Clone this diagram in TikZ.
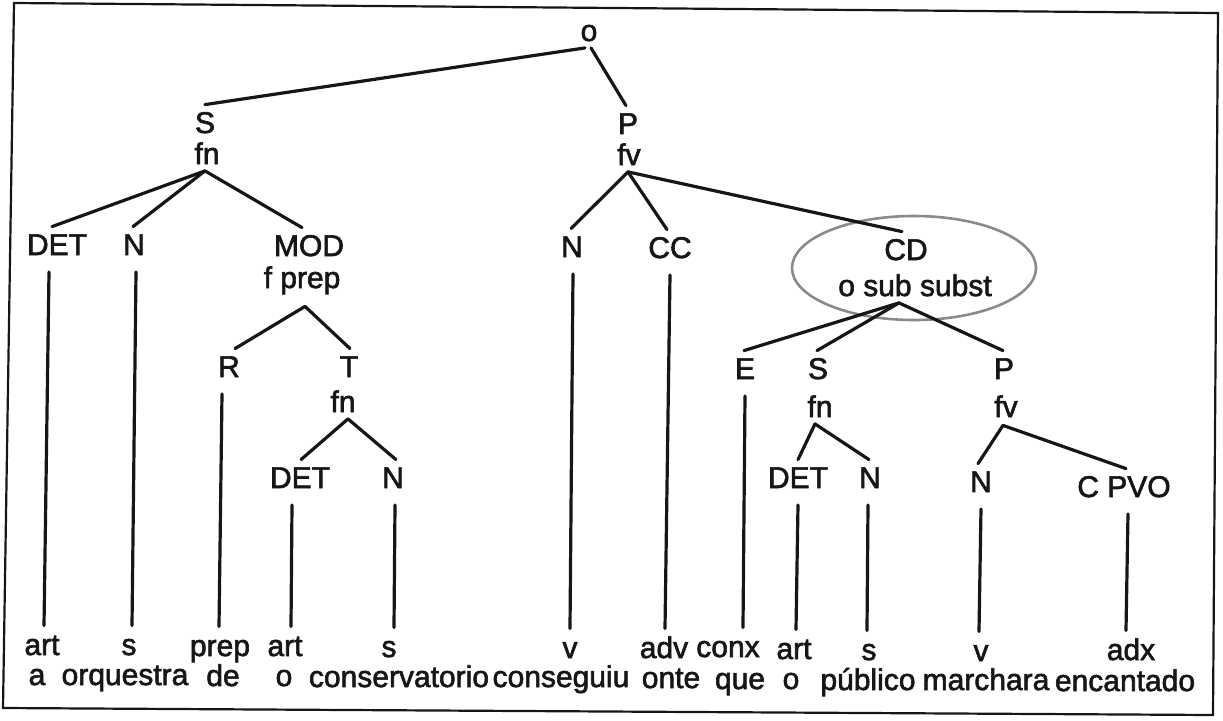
\documentclass[tikz,border=0pt]{standalone}
\usepackage{fontspec}
\setmainfont{Liberation Sans}
\newfontfamily\treefont{Liberation Sans}[FakeBold=2]
\usetikzlibrary{shapes.geometric}

\definecolor{ink}{HTML}{161616}
\definecolor{ringgray}{HTML}{8A8A8A}

% \branch{parent}{child}{parent dx}{parent dy}{child dx}   (offsets in px)
\newcommand\branch[5]{%
  \draw[branchline] ([xshift=#3*0.5pt,yshift=-(#4+3.5)*0.5pt]#1.south) --
                    ([xshift=#5*0.5pt,yshift=7pt]#2.north);}
% \stem{category}{word class}{top dx}{bottom dx}   (offsets in px)
\newcommand\stem[4]{%
  \draw[branchline] ([xshift=#3*0.5pt,yshift=-6.75pt]#1.south) --
                    ([xshift=#4*0.5pt,yshift=7.5pt]#2.north);}

\begin{document}
\begin{tikzpicture}[x=0.5pt,y=-0.5pt,
  lbl/.style={anchor=base,inner sep=0pt,text height=0.7em,text depth=0.15em,
              font=\treefont\fontsize{15}{18}\selectfont,text=ink},
  branchline/.style={line width=1.6pt,draw=ink,line cap=round},
  frame/.style={line width=1.1pt,draw=ink},
  ring/.style={ellipse,draw=ringgray,line width=1.3pt,inner sep=0pt,
               minimum width=122pt,minimum height=52pt}]
\useasboundingbox (0,0) rectangle (1223,720);

% outer frame
\draw[frame] (14,3) -- (1218,13) -- (1213,715) -- (3,708) -- cycle;

% sentence
\node[lbl] (root) at (589,41) {o};

% subject
\node[lbl] (sS)  at (205,133) {S};
\node[lbl] (sSf) at (207,164) {fn};
\node[lbl] (det1) at (57,255) {DET};
\node[lbl] (n1)   at (134,255) {N};
\node[lbl] (mod)  at (309,256) {MOD};
\node[lbl] (modf) at (302,288) {f prep};
\node[lbl] (r)    at (229,377) {R};
\node[lbl] (t)    at (349,377) {T};
\node[lbl] (tf)   at (343,412) {fn};
\node[lbl] (det3) at (300,488) {DET};
\node[lbl] (n3)   at (393,488) {N};

% predicate
\node[lbl] (pP)  at (628,134) {P};
\node[lbl] (pPf) at (629,165) {fv};
\node[lbl] (n2)  at (572,257) {N};
\node[lbl] (cc)  at (670,258) {CC};
\node[lbl] (cd)  at (906,260) {CD};
\node[lbl] (cdf) at (915,296) {o sub subst};
\node[ring] (cdring) at (914,268) {};

% subordinate clause
\node[lbl] (e)    at (745,379) {E};
\node[lbl] (s2)   at (818,379) {S};
\node[lbl] (s2f)  at (820,417) {fn};
\node[lbl] (p2)   at (1004,379) {P};
\node[lbl] (p2f)  at (1006,417) {fv};
\node[lbl] (det4) at (798,488) {DET};
\node[lbl] (n4)   at (870,488) {N};
\node[lbl] (n5)   at (981,492) {N};
\node[lbl] (cpvo) at (1124,497) {C PVO};

% word classes
\node[lbl] (l1)  at (42,655)   {art};
\node[lbl] (l2)  at (129,655)  {s};
\node[lbl] (l3)  at (220,656)  {prep};
\node[lbl] (l4)  at (285,656)  {art};
\node[lbl] (l5)  at (389,657)  {s};
\node[lbl] (l6)  at (570,658)  {v};
\node[lbl] (l7)  at (664,658)  {adv};
\node[lbl] (l8)  at (728,657)  {conx};
\node[lbl] (l9)  at (794,659)  {art};
\node[lbl] (l10) at (869,660)  {s};
\node[lbl] (l11) at (981,661)  {v};
\node[lbl] (l12) at (1131,660) {adx};

% words
\node[lbl] (w1)  at (37,685)   {a};
\node[lbl] (w2)  at (125,685)  {orquestra};
\node[lbl] (w3)  at (223,686)  {de};
\node[lbl] (w4)  at (284,686)  {o};
\node[lbl] (w5)  at (399,687)  {conservatorio};
\node[lbl] (w6)  at (561,687)  {conseguiu};
\node[lbl] (w7)  at (671,688)  {onte};
\node[lbl] (w8)  at (740,689)  {que};
\node[lbl] (w9)  at (791,689)  {o};
\node[lbl] (w10) at (868,690)  {público};
\node[lbl] (w11) at (986,690)  {marchara};
\node[lbl] (w12) at (1125,691) {encantado};

% branches
\branch{root}{sS}{-4}{0}{0}
\branch{root}{pP}{2}{0}{-2}
\branch{sSf}{det1}{-2}{0}{-5}
\branch{sSf}{n1}{-2}{0}{-1}
\branch{sSf}{mod}{-2}{0}{-7}
\branch{modf}{r}{3}{11.5}{6}
\branch{modf}{t}{3}{11.5}{1}
\branch{tf}{det3}{5}{0}{1}
\branch{tf}{n3}{5}{0}{3}
\branch{pPf}{n2}{-1}{0}{-1}
\branch{pPf}{cc}{-1}{0}{-3}
\branch{pPf}{cd}{-1}{0}{-4}
\branch{cdf}{e}{-16}{0}{-1}
\branch{cdf}{s2}{-16}{0}{-1}
\branch{cdf}{p2}{-16}{0}{-1}
\branch{s2f}{det4}{-5}{0}{0}
\branch{s2f}{n4}{-5}{0}{-1}
\branch{p2f}{n5}{-3}{1.5}{-3}
\branch{p2f}{cpvo}{-3}{1.5}{2}

% stems down to the word classes
\stem{det1}{l1}{-8}{2}
\stem{n1}{l2}{2}{3}
\stem{r}{l3}{-7}{-1}
\stem{det3}{l4}{-8}{6}
\stem{n3}{l5}{2}{5}
\stem{n2}{l6}{1}{0}
\stem{cc}{l7}{0}{1}
\stem{e}{l8}{0}{15}
\stem{det4}{l9}{0}{2}
\stem{n4}{l10}{-2}{-2}
\stem{n5}{l11}{0}{-2}
\stem{cpvo}{l12}{4}{-5}
\end{tikzpicture}
\end{document}
